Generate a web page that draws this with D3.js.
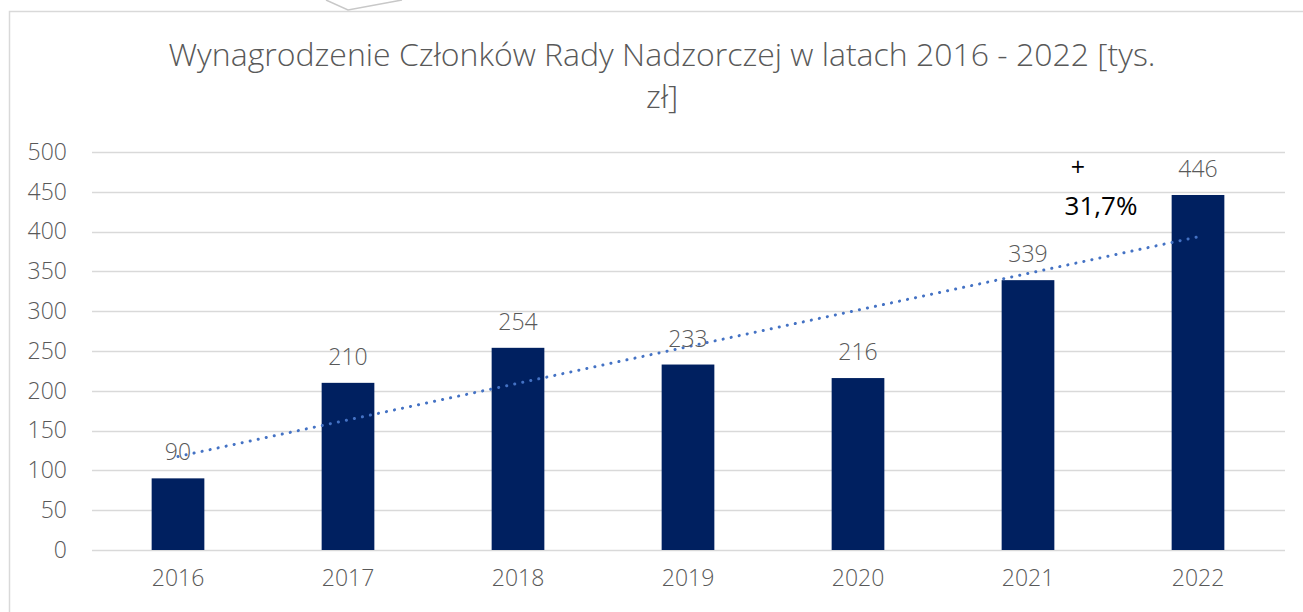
<!DOCTYPE html>
<html>
<head>
<meta charset="utf-8">
<script src="https://cdn.jsdelivr.net/npm/d3@7"></script>
<style>
  html, body { margin: 0; padding: 0; background: #fff; }
  svg { display: block; font-family: "Open Sans", "Noto Sans", sans-serif; }
  .lekki { font-weight: 300; }
</style>
</head>
<body>
<svg id="chart" width="1303" height="612"></svg>
<script>
const lata = ["2016", "2017", "2018", "2019", "2020", "2021", "2022"];
const wartosci = [90, 210, 254, 233, 216, 339, 446];
const ticksY = [0, 50, 100, 150, 200, 250, 300, 350, 400, 450, 500];
const tytul = ["Wynagrodzenie Członków Rady Nadzorczej w latach 2016 - 2022 [tys.", "zł]"];
const adnotacja = ["+", "31,7%"];

const width = 1303;
const height = 612;
const svg = d3.select("#chart");

const plot = { left: 93, right: 1283, top: 152, bottom: 550 };

const x = d3.scaleBand()
  .domain(lata)
  .range([plot.left, plot.right])
  .paddingInner(0.69)
  .paddingOuter(0.345);

const y = d3.scaleLinear()
  .domain([0, 500])
  .range([plot.bottom, plot.top]);

// ramka i fragment strzałki nad wykresem
svg.append("rect")
  .attr("x", 9.5).attr("y", 11.5)
  .attr("width", width + 20).attr("height", height + 20)
  .attr("fill", "none")
  .attr("stroke", "#d9d9d9")
  .attr("stroke-width", 1.5);

svg.append("path")
  .attr("d", "M326,0 L348,10 L402,0")
  .attr("fill", "none")
  .attr("stroke", "#c8c8c8")
  .attr("stroke-width", 1.5);

// tytul
svg.append("text")
  .attr("class", "lekki")
  .attr("text-anchor", "middle")
  .attr("fill", "#595959")
  .attr("font-size", 32)
  .selectAll("tspan")
  .data(tytul)
  .join("tspan")
  .attr("x", 662)
  .attr("y", (d, i) => 66 + i * 42)
  .text(d => d);

// siatka
svg.append("g")
  .selectAll("line")
  .data(ticksY)
  .join("line")
  .attr("x1", 92).attr("x2", 1285)
  .attr("y1", d => Math.round(y(d)) + 0.5)
  .attr("y2", d => Math.round(y(d)) + 0.5)
  .attr("stroke", "#d9d9d9")
  .attr("stroke-width", 1.3);

// os Y
const osY = svg.append("g")
  .attr("transform", `translate(${plot.left},0)`)
  .call(d3.axisLeft(y).tickValues(ticksY).tickSize(0).tickPadding(26));
osY.select(".domain").remove();
osY.selectAll("text")
  .attr("class", "lekki")
  .attr("fill", "#595959")
  .attr("font-size", 23)
  .attr("font-family", "Open Sans, Noto Sans, sans-serif");

// os X
const osX = svg.append("g")
  .attr("transform", `translate(0,${plot.bottom})`)
  .call(d3.axisBottom(x).tickSize(0).tickPadding(20));
osX.select(".domain").remove();
osX.selectAll("text")
  .attr("class", "lekki")
  .attr("fill", "#595959")
  .attr("font-size", 23)
  .attr("font-family", "Open Sans, Noto Sans, sans-serif");

// slupki
svg.append("g")
  .selectAll("rect")
  .data(wartosci)
  .join("rect")
  .attr("x", (d, i) => x(lata[i]))
  .attr("y", d => y(d))
  .attr("width", x.bandwidth())
  .attr("height", d => y(0) - y(d))
  .attr("fill", "#002060");

// linia trendu (regresja liniowa)
const n = wartosci.length;
const sx = d3.mean(d3.range(n));
const sy = d3.mean(wartosci);
const nachylenie = d3.sum(wartosci, (v, i) => (i - sx) * (v - sy)) / d3.sum(d3.range(n), i => (i - sx) ** 2);
const wyraz = sy - nachylenie * sx;
const srodek = i => x(lata[i]) + x.bandwidth() / 2;

svg.append("line")
  .attr("x1", srodek(0)).attr("y1", y(wyraz))
  .attr("x2", srodek(n - 1)).attr("y2", y(wyraz + nachylenie * (n - 1)))
  .attr("stroke", "#4472c4")
  .attr("stroke-width", 3)
  .attr("stroke-linecap", "round")
  .attr("stroke-dasharray", "0.1 8.1");

// etykiety danych
svg.append("g")
  .selectAll("text")
  .data(wartosci)
  .join("text")
  .attr("class", "lekki")
  .attr("x", (d, i) => srodek(i))
  .attr("y", d => y(d) - 18)
  .attr("text-anchor", "middle")
  .attr("fill", "#595959")
  .attr("font-size", 23)
  .text(d => d);

// adnotacja wzrostu
svg.append("text")
  .attr("x", 1078).attr("y", 176)
  .attr("text-anchor", "middle")
  .attr("font-size", 25)
  .attr("fill", "#000")
  .text(adnotacja[0]);
svg.append("text")
  .attr("x", 1101).attr("y", 215)
  .attr("text-anchor", "middle")
  .attr("font-size", 26)
  .attr("fill", "#000")
  .text(adnotacja[1]);
</script>
</body>
</html>
